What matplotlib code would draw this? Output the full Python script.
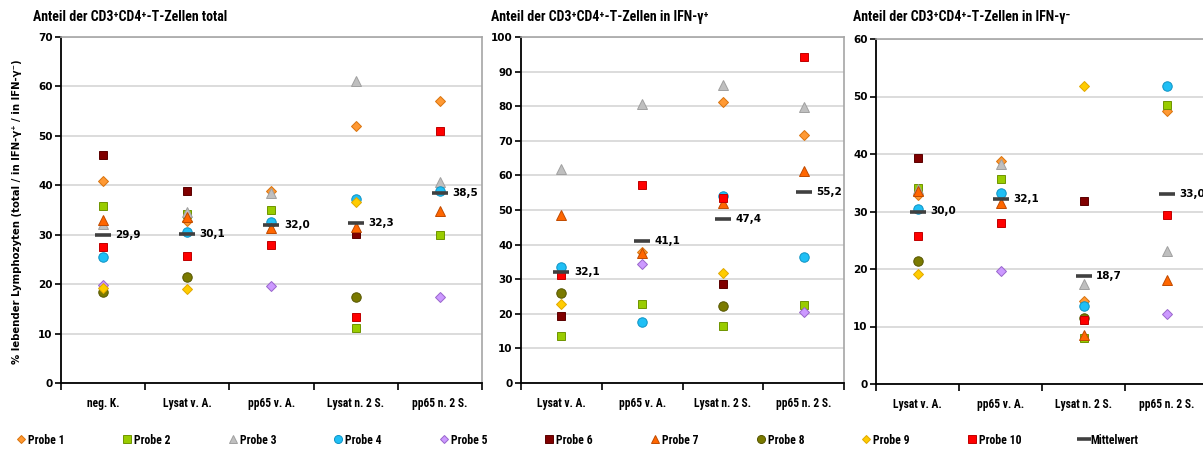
import numpy as np
import matplotlib
matplotlib.use("Agg")
import matplotlib.pyplot as plt
from matplotlib.lines import Line2D
from matplotlib import font_manager

nan = np.nan

# Gruppen je Diagramm
cats_total = ["neg. K.", "Lysat v. A.", "pp65 v. A.", "Lysat n. 2 S.", "pp65 n. 2 S."]
cats_ifn = ["Lysat v. A.", "pp65 v. A.", "Lysat n. 2 S.", "pp65 n. 2 S."]

probes = ["Probe %d" % i for i in range(1, 11)]

# Anteil CD3+CD4+ total (Zeile = Probe 1..10)
total = [
    [40.9, 32.8, 38.9, 51.9, 57.0],
    [35.9, 34.2, 34.9, 11.2, 30.0],
    [32.1, 34.5, 38.5, 61.1, 40.6],
    [25.5, 30.5, 32.6, 37.2, 38.8],
    [19.8, nan, 19.7, nan, 17.5],
    [46.2, 38.9, nan, 30.1, nan],
    [33.0, 33.5, 31.4, 31.5, 34.7],
    [18.4, 21.4, nan, 17.5, nan],
    [19.3, 19.1, nan, 36.7, nan],
    [27.6, 25.7, 27.9, 13.4, 50.9],
]
mean_total = [29.9, 30.1, 32.0, 32.3, 38.5]

# Anteil in IFN-gamma+
ifn_pos = [
    [nan, 38.0, 81.3, 71.6],
    [13.7, 22.7, 16.5, 22.5],
    [61.8, 80.6, 86.2, 79.9],
    [33.6, 17.5, 54.0, 36.4],
    [nan, 34.3, nan, 20.6],
    [19.4, nan, 28.7, nan],
    [48.5, 37.6, 51.9, 61.3],
    [25.9, nan, 22.3, nan],
    [22.7, nan, 31.8, nan],
    [31.2, 57.1, 53.6, 94.1],
]
mean_pos = [32.1, 41.1, 47.4, 55.2]

# Anteil in IFN-gamma-
ifn_neg = [
    [32.8, 38.8, 14.5, 47.5],
    [34.1, 35.6, 8.0, 48.6],
    [33.9, 38.2, 17.4, 23.2],
    [30.4, 33.3, 13.6, 51.9],
    [nan, 19.6, nan, 12.2],
    [39.3, nan, 31.9, nan],
    [33.5, 31.5, 8.5, 18.1],
    [21.4, nan, 11.4, nan],
    [19.2, nan, 51.8, nan],
    [25.8, 28.0, 11.2, 29.4],
]
mean_neg = [30.0, 32.1, 18.7, 33.0]

# Marker-Stil je Probe: (marker, Größe, Füllung, Rand)
styles = [
    ("D", 5.2, "#FF9933", "#D9730D"),
    ("s", 6.3, "#99CC00", "#6F9400"),
    ("^", 7.3, "#BFBFBF", "#A0A0A0"),
    ("o", 6.8, "#1FBFF5", "#0E93C4"),
    ("D", 5.2, "#CC99FF", "#9966CC"),
    ("s", 6.3, "#800000", "#5A0000"),
    ("^", 7.3, "#FF6600", "#C04A00"),
    ("o", 6.8, "#7A7A00", "#555500"),
    ("D", 5.2, "#FFCC00", "#E0A800"),
    ("s", 6.3, "#FF0000", "#C00000"),
]
mean_color = "#404040"

# schmale Schrift, falls vorhanden
installed = {f.name for f in font_manager.fontManager.ttflist}
narrow_name = "Liberation Sans"
for cand in ["Liberation Sans Narrow", "DejaVu Sans Condensed", "Roboto Condensed",
             "Open Sans Condensed", "Noto Sans Condensed"]:
    if cand in installed:
        narrow_name = cand
        break
narrow = [narrow_name, "DejaVu Sans"]
plt.rcParams["font.family"] = ["DejaVu Sans"]

fig = plt.figure(figsize=(12.03, 4.5), dpi=100)


def panel(rect, cats, data, means, ymax):
    ax = fig.add_axes(rect)
    x = np.arange(1, len(cats) + 1)
    for row, (m, ms, fc, ec) in zip(data, styles):
        ax.plot(x, row, ls="none", marker=m, ms=ms, mfc=fc, mec=ec, mew=0.7, zorder=3)
    ax.plot(x, means, ls="none", marker="_", ms=12, mew=2.6, color=mean_color, zorder=4)
    for xi, v in zip(x, means):
        ax.annotate(("%.1f" % v).replace(".", ","), (xi, v), xytext=(9, 0),
                    textcoords="offset points", va="center", ha="left",
                    fontsize=7.5, fontweight="bold", zorder=5)
    ax.set_xlim(0.5, len(cats) + 0.5)
    ax.set_ylim(0, ymax)
    ax.set_yticks(np.arange(0, ymax + 1, 10))
    ax.set_xticks(x)
    ax.set_xticklabels(cats, fontfamily=narrow, fontweight="bold", fontsize=8.3)
    ax.set_xticks(np.arange(0.5, len(cats) + 1, 1), minor=True)
    ax.tick_params(axis="x", which="major", length=0, pad=10)
    ax.tick_params(axis="x", which="minor", length=5, width=1.2, direction="out")
    ax.tick_params(axis="y", length=4, width=1.2, direction="out", labelsize=7.5, pad=2)
    for lab in ax.get_yticklabels():
        lab.set_fontweight("bold")
    ax.yaxis.grid(True, color="#D9D9D9", lw=1.3)
    ax.set_axisbelow(True)
    for s in ("left", "bottom"):
        ax.spines[s].set_color("black")
        ax.spines[s].set_linewidth(1.3)
    for s in ("top", "right"):
        ax.spines[s].set_color("#A6A6A6")
        ax.spines[s].set_linewidth(1.2)
    return ax


H = 1203.0
bottom = (450 - 383) / 450.0
height = 346 / 450.0
panel([61 / H, bottom, 421 / H, height], cats_total, total, mean_total, 70)
panel([521 / H, bottom, 323 / H, height], cats_ifn, ifn_pos, mean_pos, 100)
panel([876 / H, bottom - 1 / 450.0, 332 / H, 345 / 450.0], cats_ifn, ifn_neg, mean_neg, 60)

title_kw = dict(fontfamily=narrow, fontweight="bold", fontsize=10, va="center", ha="left")
fig.text(33 / H, 1 - 17 / 450, "Anteil der CD3\u207aCD4\u207a-T-Zellen total", **title_kw)
fig.text(491 / H, 1 - 17 / 450, "Anteil der CD3\u207aCD4\u207a-T-Zellen in IFN-\u03b3\u207a", **title_kw)
fig.text(853 / H, 1 - 17 / 450, "Anteil der CD3\u207aCD4\u207a-T-Zellen in IFN-\u03b3\u207b", **title_kw)

fig.text(17 / H, 1 - 212 / 450,
         "% lebender Lymphozyten (total / in IFN-\u03b3\u207a / in IFN-\u03b3\u207b)",
         rotation=90, va="center", ha="center", fontsize=7.3, fontweight="bold")

handles = [Line2D([], [], ls="none", marker=m, ms=ms * 0.85, mfc=fc, mec=ec, mew=0.7)
           for (m, ms, fc, ec) in styles]
handles.append(Line2D([], [], ls="none", marker="_", ms=10, mew=2.6, color=mean_color))
fig.legend(handles, probes + ["Mittelwert"], loc="center left",
           bbox_to_anchor=(6 / H, 1 - 440 / 450), ncol=11, frameon=False,
           handlelength=0.8, handletextpad=0.2, columnspacing=4.85,
           prop={"family": narrow, "weight": "bold", "size": 8.5})

fig.savefig("out.png", dpi=100)
